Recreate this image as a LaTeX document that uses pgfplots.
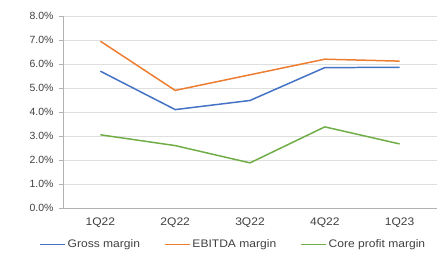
\documentclass[border=0pt]{standalone}
\usepackage{pgfplots}
\pgfplotsset{compat=1.18}
\usepackage{fontspec}
\setmainfont{Liberation Sans}
\newfontfamily\widesans{Liberation Sans}[FakeStretch=1.1]
\definecolor{cblue}{HTML}{4472C4}
\definecolor{corange}{HTML}{ED7D31}
\definecolor{cgreen}{HTML}{70AD47}
\definecolor{tickc}{HTML}{404040}
\begin{document}
\begin{tikzpicture}
\begin{axis}[
  at={(0,0)}, anchor=south west,
  scale only axis, width=374bp, height=192bp,
  xmin=-0.5, xmax=4.5, ymin=0, ymax=8,
  xtick={0,1,2,3,4},
  xticklabels={1Q22,2Q22,3Q22,4Q22,1Q23},
  ytick={0,1,2,3,4,5,6,7,8},
  yticklabel={\pgfmathprintnumber[fixed,fixed zerofill,precision=1]{\tick}\%},
  /pgf/number format/assume math mode=true,
  ymajorgrids, grid style={draw=gray!25, line width=0.6pt},
  axis x line*=bottom, axis y line*=left,
  axis line style={draw=gray!60, line width=0.6pt, -},
  tick align=outside,
  major tick length=4bp,
  xtick style={draw=none},
  ytick style={draw=gray!60, line width=0.6pt},
  yticklabel style={font=\fontsize{10.5}{12}\selectfont, text=tickc, xshift=-2bp},
  xticklabel style={font=\widesans\fontsize{11}{12}\selectfont, text=tickc, yshift=-2bp},
  legend style={at={(0.455,-0.145)}, anchor=north, draw=none, fill=none,
    legend columns=3, font=\widesans\fontsize{11}{12}\selectfont, text=tickc,
    /tikz/every even column/.append style={column sep=22bp}},
  legend image code/.code={\draw[#1] (0bp,0bp) -- (25bp,0bp);},
  every axis plot/.append style={line width=1.5pt, mark=none},
]
\addplot[cblue] coordinates {(0,5.70) (1,4.10) (2,4.48) (3,5.85) (4,5.86)};
\addlegendentry{Gross margin}
\addplot[corange] coordinates {(0,6.95) (1,4.90) (2,5.55) (3,6.20) (4,6.12)};
\addlegendentry{EBITDA margin}
\addplot[cgreen] coordinates {(0,3.05) (1,2.60) (2,1.88) (3,3.38) (4,2.67)};
\addlegendentry{Core profit margin}
\end{axis}
\path[use as bounding box] (-63bp,-42bp) rectangle (384bp,208bp);
\end{tikzpicture}
\end{document}
